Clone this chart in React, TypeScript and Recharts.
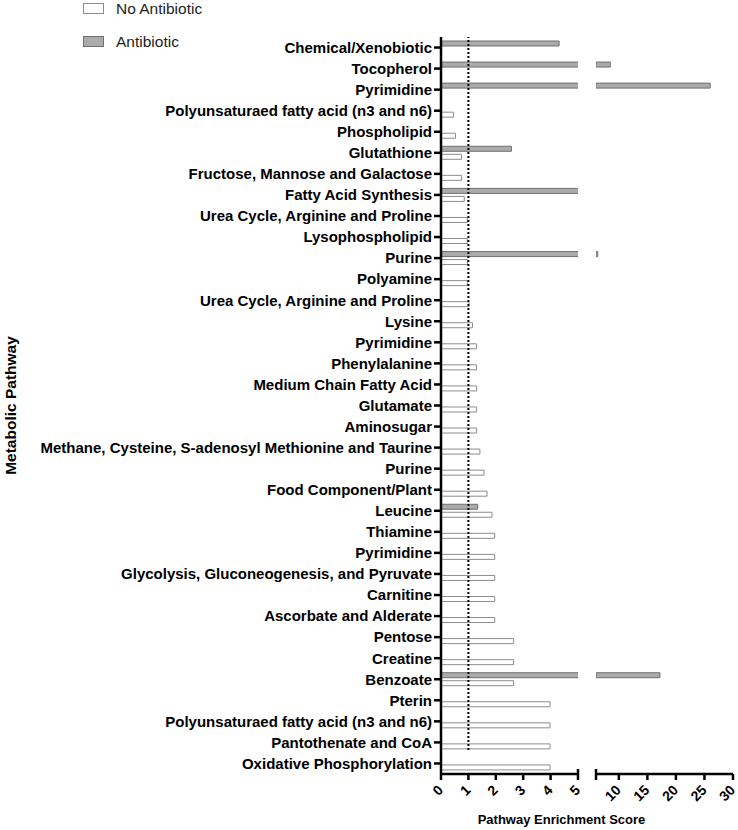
import { BarChart, Bar, XAxis, YAxis, ReferenceLine, Legend } from 'recharts';

const pathways = [
  'Chemical/Xenobiotic',
  'Tocopherol',
  'Pyrimidine',
  'Polyunsaturaed fatty acid (n3 and n6)',
  'Phospholipid',
  'Glutathione',
  'Fructose, Mannose and Galactose',
  'Fatty Acid Synthesis',
  'Urea Cycle, Arginine and Proline',
  'Lysophospholipid',
  'Purine',
  'Polyamine',
  'Urea Cycle, Arginine and Proline',
  'Lysine',
  'Pyrimidine',
  'Phenylalanine',
  'Medium Chain Fatty Acid',
  'Glutamate',
  'Aminosugar',
  'Methane, Cysteine, S-adenosyl Methionine and Taurine',
  'Purine',
  'Food Component/Plant',
  'Leucine',
  'Thiamine',
  'Pyrimidine',
  'Glycolysis, Gluconeogenesis, and Pyruvate',
  'Carnitine',
  'Ascorbate and Alderate',
  'Pentose',
  'Creatine',
  'Benzoate',
  'Pterin',
  'Polyunsaturaed fatty acid (n3 and n6)',
  'Pantothenate and CoA',
  'Oxidative Phosphorylation',
];

const noAntibiotic = [
  null, null, null, 0.46, 0.53, 0.75, 0.75, 0.85, 0.96, 0.96,
  0.97, 0.96, 1.02, 1.15, 1.3, 1.3, 1.3, 1.3, 1.3, 1.42,
  1.57, 1.68, 1.86, 1.96, 1.96, 1.96, 1.96, 1.96, 2.65, 2.65,
  2.65, 3.98, 3.98, 3.98, 3.98,
];

const antibiotic = [
  4.31, 8.5, 26, null, null, 2.57, null, 5.5, null, null,
  6.3, null, null, null, null, null, null, null, null, null,
  null, null, 1.34, null, null, null, null, null, null, null,
  17.2, null, null, null, null,
];

const lowTicks = [0, 1, 2, 3, 4, 5];
const highTicks = [6, 10, 15, 20, 25, 30];
const lowDomain = [0, 5];
const highDomain = [6, 30];

const data = pathways.map((pathway, i) => ({
  pathway,
  noAntibiotic: noAntibiotic[i],
  antibiotic: antibiotic[i],
}));

// the upper segment only shows the part of a bar that passes the break
const aboveBreak = (v: number | null) => (v != null && v > highDomain[0] ? v : null);
const upperData = data.map((d) => ({
  pathway: d.pathway,
  noAntibiotic: aboveBreak(d.noAntibiotic),
  antibiotic: aboveBreak(d.antibiotic),
}));

const TICK_SIZE = 6;
const TICK_MARGIN = 2;
const AXIS_STROKE = { stroke: '#000', strokeWidth: 2.5 };
const GREY = { fill: '#ababab', stroke: '#707070' };
const WHITE = { fill: '#ffffff', stroke: '#8c8c8c' };

// tick with the axis-break cap drawn on the split value
function XTick(props: any) {
  const { x, y, payload, breakAt, showLabel } = props;
  const axisY = y - TICK_SIZE - TICK_MARGIN;
  const isBreak = payload.value === breakAt;
  const tx = x + 3;
  const ty = y + 9;
  return (
    <g>
      <line
        x1={x}
        x2={x}
        y1={isBreak ? axisY - 5 : axisY}
        y2={axisY + TICK_SIZE}
        stroke="#000"
        strokeWidth={2.5}
      />
      {showLabel && (
        <text
          x={tx}
          y={ty}
          transform={`rotate(-45 ${tx} ${ty})`}
          textAnchor="end"
          fontSize={14}
          fontWeight={700}
          fill="#000"
        >
          {payload.value}
        </text>
      )}
    </g>
  );
}

function LegendBox({ payload }: any) {
  const items = [...(payload ?? [])].reverse();
  return (
    <div>
      {items.map((e: any, i: number) => {
        const st = e.value === 'Antibiotic' ? GREY : WHITE;
        return (
          <div
            key={e.value}
            style={{ display: 'flex', alignItems: 'center', height: 17, marginBottom: i === 0 ? 16 : 0 }}
          >
            <span style={{ width: 19, height: 9, background: st.fill, border: `1px solid ${st.stroke}` }} />
            <span style={{ marginLeft: 12, fontSize: 15.5, color: '#222' }}>{e.value}</span>
          </div>
        );
      })}
    </div>
  );
}

export default function App() {
  return (
    <div
      style={{
        position: 'absolute',
        left: 0,
        top: 0,
        width: 738,
        height: 830,
        background: '#fff',
        fontFamily: '"Liberation Sans", Arial, sans-serif',
      }}
    >
      <div style={{ position: 'absolute', left: 0, top: 0 }}>
        <BarChart
          width={738}
          height={830}
          data={data}
          layout="vertical"
          barSize={5}
          barGap={3}
          margin={{ top: 37, right: 160, bottom: 0, left: 0 }}
        >
          <XAxis
            type="number"
            domain={lowDomain}
            ticks={lowTicks}
            allowDataOverflow
            interval={0}
            height={56}
            tickSize={TICK_SIZE}
            tickMargin={TICK_MARGIN}
            tickLine={false}
            axisLine={AXIS_STROKE}
            tick={(p: any) => <XTick {...p} breakAt={5} showLabel />}
            label={{
              content: (p: any) => (
                <text
                  x={p.viewBox.x + p.viewBox.width / 2 + 52}
                  y={p.viewBox.y + 50}
                  textAnchor="middle"
                  fontSize={13}
                  fontWeight={700}
                  fill="#000"
                >
                  Pathway Enrichment Score
                </text>
              ),
            }}
          />
          <YAxis
            type="category"
            dataKey="pathway"
            width={441}
            interval={0}
            tickSize={7}
            tickLine={AXIS_STROKE}
            axisLine={AXIS_STROKE}
            tick={{ fill: '#000', fontSize: 15, fontWeight: 700 }}
            label={{
              content: (p: any) => {
                const cx = p.viewBox.x + 10;
                const cy = p.viewBox.y + p.viewBox.height / 2;
                return (
                  <text
                    x={cx}
                    y={cy}
                    transform={`rotate(-90 ${cx} ${cy})`}
                    textAnchor="middle"
                    dominantBaseline="central"
                    fontSize={15.5}
                    fontWeight={700}
                    fill="#000"
                  >
                    Metabolic Pathway
                  </text>
                );
              },
            }}
          />
          <Legend
            layout="vertical"
            align="center"
            verticalAlign="middle"
            wrapperStyle={{ top: 0, left: 83 }}
            content={<LegendBox />}
          />
          <Bar dataKey="antibiotic" name="Antibiotic" {...GREY} strokeWidth={1} isAnimationActive={false} />
          <Bar dataKey="noAntibiotic" name="No Antibiotic" {...WHITE} strokeWidth={1} isAnimationActive={false} />
          <ReferenceLine
            x={1}
            stroke="#000"
            strokeWidth={2}
            strokeDasharray="2 2"
            shape={(p: any) => (
              <line x1={p.x1} y1={p.y1 - 24} x2={p.x2} y2={p.y2} stroke="#000" strokeWidth={2} strokeDasharray="2 2" />
            )}
          />
        </BarChart>
      </div>
      <div style={{ position: 'absolute', left: 586, top: 0 }}>
        <BarChart
          width={152}
          height={830}
          data={upperData}
          layout="vertical"
          barSize={5}
          barGap={3}
          margin={{ top: 37, right: 5, bottom: 0, left: 10 }}
        >
          <XAxis
            type="number"
            domain={highDomain}
            ticks={highTicks}
            allowDataOverflow
            interval={0}
            height={56}
            tickSize={TICK_SIZE}
            tickMargin={TICK_MARGIN}
            tickLine={false}
            axisLine={AXIS_STROKE}
            tick={(p: any) => <XTick {...p} breakAt={6} showLabel={p.payload.value !== 6} />}
          />
          <YAxis type="category" dataKey="pathway" hide />
          <Bar dataKey="antibiotic" name="Antibiotic" {...GREY} strokeWidth={1} isAnimationActive={false} />
          <Bar dataKey="noAntibiotic" name="No Antibiotic" {...WHITE} strokeWidth={1} isAnimationActive={false} />
        </BarChart>
      </div>
    </div>
  );
}
